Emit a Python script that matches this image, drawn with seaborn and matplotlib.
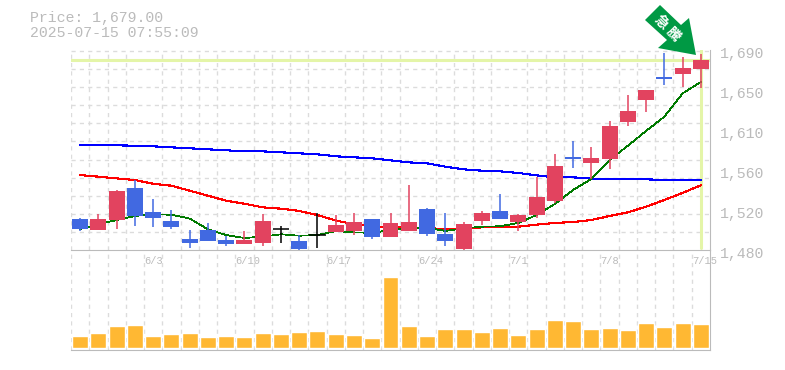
import numpy as np
import pandas as pd
import seaborn as sns
import matplotlib
matplotlib.use('Agg')
import matplotlib.pyplot as plt
from matplotlib.patches import Polygon
from matplotlib.transforms import ScaledTranslation, IdentityTransform

# candle values
opens = [1512.5, 1501, 1511.5, 1545, 1520, 1510.5, 1491.5, 1501, 1490.5, 1486.3, 1487.4, 1501.7, 1489.5, 1495.4,
         1499, 1500, 1512.5, 1493.7, 1500, 1523, 1497, 1481, 1510.5, 1521, 1509.4, 1516.8,
         1531.5, 1578, 1571.4, 1575.5, 1614.4, 1637.5, 1661.6, 1665, 1670]
closes = [1502, 1512.5, 1542, 1515.7, 1513.6, 1504, 1487, 1489.5, 1486.3, 1490.5, 1510.5, 1501.7, 1481, 1495.4,
          1506, 1509, 1493.7, 1508, 1509, 1497, 1489.5, 1507.3, 1518.9, 1512.5, 1516.8, 1535.7,
          1568, 1576, 1576.6, 1610, 1626, 1648, 1659.5, 1671, 1679]
highs = [1513.6, 1517.8, 1543, 1553.5, 1533.5, 1522, 1501, 1508.4, 1494.7, 1500, 1517.8, 1505, 1495.7, 1518.5,
         1516.8, 1519, 1512.5, 1519, 1548, 1524, 1519, 1509.4, 1521, 1539, 1517.8, 1556.7,
         1581, 1594.5, 1588, 1615.5, 1642.7, 1648, 1687, 1682.6, 1686]
lows = [1500, 1501, 1502, 1505, 1504, 1502, 1482, 1489.5, 1484, 1486.3, 1484, 1487.4, 1480, 1482,
        1499, 1495.8, 1491.5, 1493.7, 1500, 1494.7, 1484, 1479, 1506, 1512.5, 1500, 1513.6,
        1529, 1566, 1554.5, 1565, 1610, 1625, 1653, 1651, 1650]
ma_short = [1502, 1507, 1511.5, 1515.7, 1517.5, 1517, 1513, 1501.7, 1495.7, 1492.6, 1494, 1496.5, 1495, 1495.7,
            1499.9, 1498.5, 1498, 1501, 1503, 1503.4, 1500, 1502.7, 1504.5, 1504.9, 1508.4, 1516.7,
            1528.3, 1543, 1554.5, 1574.5, 1589.5, 1605, 1620, 1644.5, 1656.4]
ma_mid = [1558.7, 1557, 1555.2, 1553.5, 1549.6, 1547.5, 1542.3, 1537, 1531.8, 1528.6, 1524.8, 1523.4, 1521, 1516.7,
          1511, 1507, 1505, 1504, 1503.8, 1503, 1502, 1502.4, 1503.8, 1504, 1504.5, 1506.6,
          1508.4, 1509.4, 1511.5, 1515.7, 1519.5, 1525.5, 1532.5, 1540, 1548]
ma_long = [1589.9, 1589.9, 1589.9, 1589.5, 1588.9, 1587.8, 1586.8, 1585.7, 1584.7, 1583.6, 1583.6, 1582.6, 1581.5, 1580.5,
           1578.4, 1577.3, 1576.3, 1574.2, 1572, 1571, 1567.5, 1564.7, 1563.3, 1562.6, 1560.9, 1558.4,
           1556.3, 1556.3, 1554.9, 1554.2, 1554.2, 1554.2, 1553.5, 1553.2, 1553.2]
volume = [12, 15, 22, 23, 12, 14, 15, 11, 12, 11, 15, 14, 16, 17, 14, 13, 10, 71,
          22, 12, 19, 19, 16, 20, 13, 19, 28, 27, 19, 20, 18, 25, 21, 25, 24]
date_pos = [4, 9, 14, 19, 24, 29, 34]
date_labels = ['6/3', '6/10', '6/17', '6/24', '7/1', '7/8', '7/15']
price_ticks = [1480, 1522, 1564, 1606, 1648, 1690]
price_labels = ['1,480', '1,520', '1,560', '1,610', '1,650', '1,690']
last_price = 1679

RED, BLUE = '#e2435f', '#4169e1'
GREY, GRID = '#bbbbbb', '#dcdcdc'
MONO = 'Liberation Mono'

sns.set_style('white')
W, H = 785, 370
fig = plt.figure(figsize=(W / 100, H / 100), dpi=100)
left, right = 71 / W, 710 / W
ax = fig.add_axes([left, 1 - 250 / H, right - left, 200 / H], zorder=2)
ax_vol = fig.add_axes([left, 1 - 350 / H, right - left, 100 / H], zorder=1)
ax.patch.set_alpha(0)

idx = np.arange(len(opens))
df = pd.DataFrame({'i': idx, 'o': opens, 'c': closes, 'h': highs, 'l': lows,
                   'ma5': ma_short, 'ma25': ma_mid, 'ma75': ma_long, 'vol': volume})
edges = np.arange(len(idx)) - 0.5

# volume
sns.barplot(data=df, x='i', y='vol', ax=ax_vol, color='#ffb833', saturation=1, width=0.875, zorder=3)
ax_vol.set_xlim(-0.5, 34.5)
ax_vol.set_ylim(-2, 98)
ax_vol.set_xlabel('')
ax_vol.set_ylabel('')
ax_vol.set_xticks(edges)
ax_vol.set_xticklabels([])
ax_vol.set_yticks([])
ax_vol.grid(axis='x', color=GRID, linestyle=(0, (3, 3)), linewidth=1)
ax_vol.set_axisbelow(True)
ax_vol.tick_params(length=0)

# price
ax.axhline(last_price, color='#e4f5a8', linewidth=2.2, zorder=1)
ax.axvline(34, ymin=0.01, color='#e4f5a8', linewidth=2.2, zorder=1)

for name, col, lw in [('ma75', '#0000ff', 0.8), ('ma25', '#ff0000', 0.8), ('ma5', '#007a00', 0.55)]:
    sns.lineplot(data=df, x='i', y=name, ax=ax, color=col, linewidth=lw, zorder=2, legend=False, antialiased=False)

colors = ['#000000' if o == c else (RED if c > o else BLUE) for o, c in zip(opens, closes)]
ax.vlines(idx, lows, highs, colors=colors, linewidth=1.1, zorder=3)
ax.bar(idx, np.abs(df.c - df.o), bottom=np.minimum(df.c, df.o), width=0.875, color=colors, linewidth=0, zorder=4)
for i in idx[df.o == df.c]:
    ax.hlines(opens[i], i - 0.44, i + 0.44, color='#000000', linewidth=1.1, zorder=4)

ax.set_xlim(-0.5, 34.5)
ax.set_ylim(1480, 1690)
ax.set_xlabel('')
ax.set_ylabel('')
ax.set_xticks(edges, minor=True)
ax.set_yticks(np.arange(1480, 1695, 19), minor=True)
ax.grid(which='minor', color=GRID, linestyle=(0, (3, 3)), linewidth=1)
ax.set_axisbelow(True)
ax.set_xticks([p - 0.5 for p in date_pos])
ax.set_xticklabels(date_labels, ha='left', family=MONO, fontsize=7.5, color=GREY)
ax.set_yticks(price_ticks)
ax.set_yticklabels(price_labels, family=MONO, fontsize=10.7, color=GREY)
ax.yaxis.tick_right()
ax.tick_params(which='both', length=0)
ax.tick_params(axis='y', pad=7.5)
ax.tick_params(axis='x', pad=4)
for lab in ax.get_yticklabels():
    lab.set_transform(lab.get_transform() + ScaledTranslation(0, -1.6 / 72, fig.dpi_scale_trans))

for a in (ax, ax_vol):
    for s in a.spines.values():
        s.set_visible(False)
    a.spines['right'].set_visible(True)
    a.spines['right'].set_color(GREY)
ax_vol.spines['bottom'].set_visible(True)
ax_vol.spines['bottom'].set_color(GREY)
ax.spines['bottom'].set_visible(True)
ax.spines['bottom'].set_color(GREY)

fig.text(30 / W, 1 - 18 / H, 'Price: 1,679.00', family=MONO, fontsize=10.7, color=GREY, va='center')
fig.text(30 / W, 1 - 33 / H, '2025-07-15 07:55:09', family=MONO, fontsize=10.7, color=GREY, va='center')

# green arrow badge, in pixels from the top left
arrow_px = [(660, 5), (681, 25), (689, 18), (696, 55), (658, 48), (667, 40), (645, 20)]
arrow = Polygon([(x, H - y) for x, y in arrow_px], closed=True, transform=IdentityTransform(),
                facecolor='#009944', edgecolor='none', zorder=10)
fig.add_artist(arrow)
fig.text(661 / W, 1 - 22 / H, '急', family='Noto Sans CJK JP', fontsize=10, fontweight='bold', color='white',
         rotation=-45, ha='center', va='center', zorder=11)
fig.text(673 / W, 1 - 34 / H, '騰', family='Noto Sans CJK JP', fontsize=10, fontweight='bold', color='white',
         rotation=-45, ha='center', va='center', zorder=11)

fig.savefig('out.png', dpi=100)
